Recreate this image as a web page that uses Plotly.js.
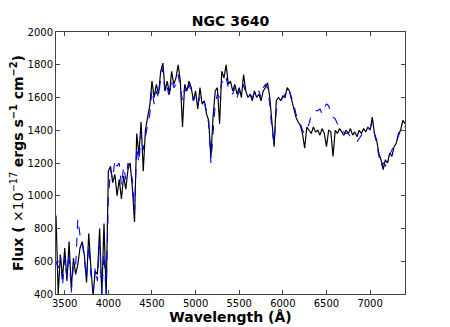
<!DOCTYPE html>
<html>
<head>
<meta charset="utf-8">
<script src="https://cdn.plot.ly/plotly-3.0.1.min.js"></script>
<style>
  html, body { margin: 0; padding: 0; background: #fff; }
  #chart { width: 450px; height: 327px; }
</style>
</head>
<body>
<div id="chart"></div>
<script>
// wavelength grid (Angstrom), 25 A steps
const wavelength = [];
for (let w = 3400; w <= 7400; w += 25) wavelength.push(w);

// observed spectrum (black, solid)
const fluxObserved = [
  880, 400, 640, 500, 680, 480, 720, 430, 620, 520, 580, 680, 720, 640, 470, 770, 560, 390, 540, 520, 800, 390, 830, 390,
  1150, 1180, 1080, 1130, 1000, 1100, 980, 1120, 1040, 1160, 1200, 1050,
  840, 1380, 1250, 1450, 1150, 1400, 1480, 1550, 1700, 1600, 1680, 1620, 1760, 1810, 1640, 1700, 1620, 1760, 1680, 1720,
  1800, 1700, 1420, 1680, 1640, 1700, 1660, 1580, 1640, 1530, 1660, 1560, 1580, 1500, 1460, 1230,
  1480, 1640, 1660, 1440, 1760, 1720, 1800, 1680, 1700, 1640, 1680, 1620, 1660, 1600, 1740, 1640, 1600, 1620, 1580, 1640,
  1600, 1620, 1580, 1640, 1660, 1690, 1600, 1420, 1300, 1580, 1600, 1580, 1610, 1600, 1660, 1640, 1580, 1540, 1480, 1450,
  1430, 1380, 1290, 1420, 1400, 1380, 1420, 1390, 1400, 1370, 1410, 1380, 1300, 1400, 1390, 1240, 1400, 1380, 1410, 1390,
  1370, 1400, 1380, 1410, 1370, 1390, 1360, 1400, 1380, 1410, 1390, 1420, 1400, 1480, 1380, 1340, 1260, 1220, 1160, 1220,
  1200, 1260, 1240, 1300, 1320, 1380, 1400, 1460, 1440
];

// model / comparison spectrum (blue, dashed)
const fluxModel = [
  600, 560, 640, 450, 620, 500, 650, 410, 580, 560, 860, 760, 720, 600, 500, 700, 520, 420, 560, 480, 720, 400, 650, 390,
  980, 1160, 1100, 1220, 1180, 1200, 1060, 1180, 1100, 1200, 1160, 1100,
  900, 1300, 1200, 1380, 1280, 1360, 1420, 1500, 1650, 1560, 1640, 1600, 1720, 1780, 1620, 1660, 1600, 1720, 1660, 1680,
  1740, 1660, 1580, 1660, 1620, 1680, 1640, 1580, 1620, 1560, 1600, 1560, 1570, 1520, 1440, 1200,
  1400, 1560, 1620, 1600, 1700, 1680, 1720, 1660, 1660, 1620, 1660, 1600, 1640, 1620, 1680, 1620, 1610, 1620, 1600, 1630,
  1610, 1640, 1600, 1660, 1680, 1660, 1560, 1400, 1320, 1520, 1560, 1580, 1600, 1620, 1660, 1640, 1600, 1560, 1500, 1460,
  1440, 1400, 1380, 1410, 1440, 1490, 1510, 1520, 1520, 1530, 1500, 1540, 1560, 1550, 1500, 1480, 1470, 1440, 1420, 1410,
  1390, 1380, 1380, 1360, 1350, 1340, 1330, 1350, 1370, 1390, 1400, 1410, 1410, 1450, 1380, 1320, 1240, 1180, 1200, 1180,
  1230, 1250, 1280, 1300, 1330, 1370, 1400, 1430, 1420
];

const xTicks = [3500, 4000, 4500, 5000, 5500, 6000, 6500, 7000];
const yTicks = [400, 600, 800, 1000, 1200, 1400, 1600, 1800, 2000];

const traces = [
  {
    x: wavelength, y: fluxObserved,
    type: 'scatter', mode: 'lines',
    line: { color: '#000000', width: 1.2 },
    hoverinfo: 'skip'
  },
  {
    x: wavelength, y: fluxModel,
    type: 'scatter', mode: 'lines',
    line: { color: '#0000ff', width: 1.1, dash: 'dash' },
    hoverinfo: 'skip'
  }
];

const axisCommon = {
  showgrid: false,
  zeroline: false,
  showline: true,
  linecolor: '#444',
  linewidth: 1,
  mirror: 'ticks',
  ticks: 'inside',
  ticklen: 4,
  tickcolor: '#444',
  tickfont: { family: 'DejaVu Sans', size: 10, color: '#000' }
};

const layout = {
  width: 450,
  height: 327,
  margin: { l: 56, r: 45, t: 32, b: 33 },
  paper_bgcolor: '#fff',
  plot_bgcolor: '#fff',
  showlegend: false,
  font: { family: 'DejaVu Sans', color: '#000' },
  title: {
    text: '<b>NGC 3640</b>',
    font: { family: 'DejaVu Sans', size: 14, color: '#000' },
    x: 0.5, xref: 'paper', xanchor: 'center',
    y: 0.935, yref: 'container', yanchor: 'middle'
  },
  xaxis: Object.assign({}, axisCommon, {
    range: [3400, 7400],
    tickvals: xTicks,
    ticktext: xTicks.map(String),
    automargin: false,
    title: {
      text: '<b>Wavelength (Å)</b>',
      font: { family: 'DejaVu Sans', size: 14, color: '#000' },
      standoff: 3
    }
  }),
  yaxis: Object.assign({}, axisCommon, {
    range: [400, 2000],
    tickvals: yTicks,
    ticktext: yTicks.map(String),
    automargin: false,
    title: {
      text: '<b>Flux (</b> ×10<sup>−17</sup> <b>ergs s<sup>−1</sup> cm<sup>−2</sup>)</b>',
      font: { family: 'DejaVu Sans', size: 14, color: '#000' },
      standoff: 0
    }
  })
};

Plotly.newPlot('chart', traces, layout, { displayModeBar: false, staticPlot: true });
</script>
</body>
</html>
